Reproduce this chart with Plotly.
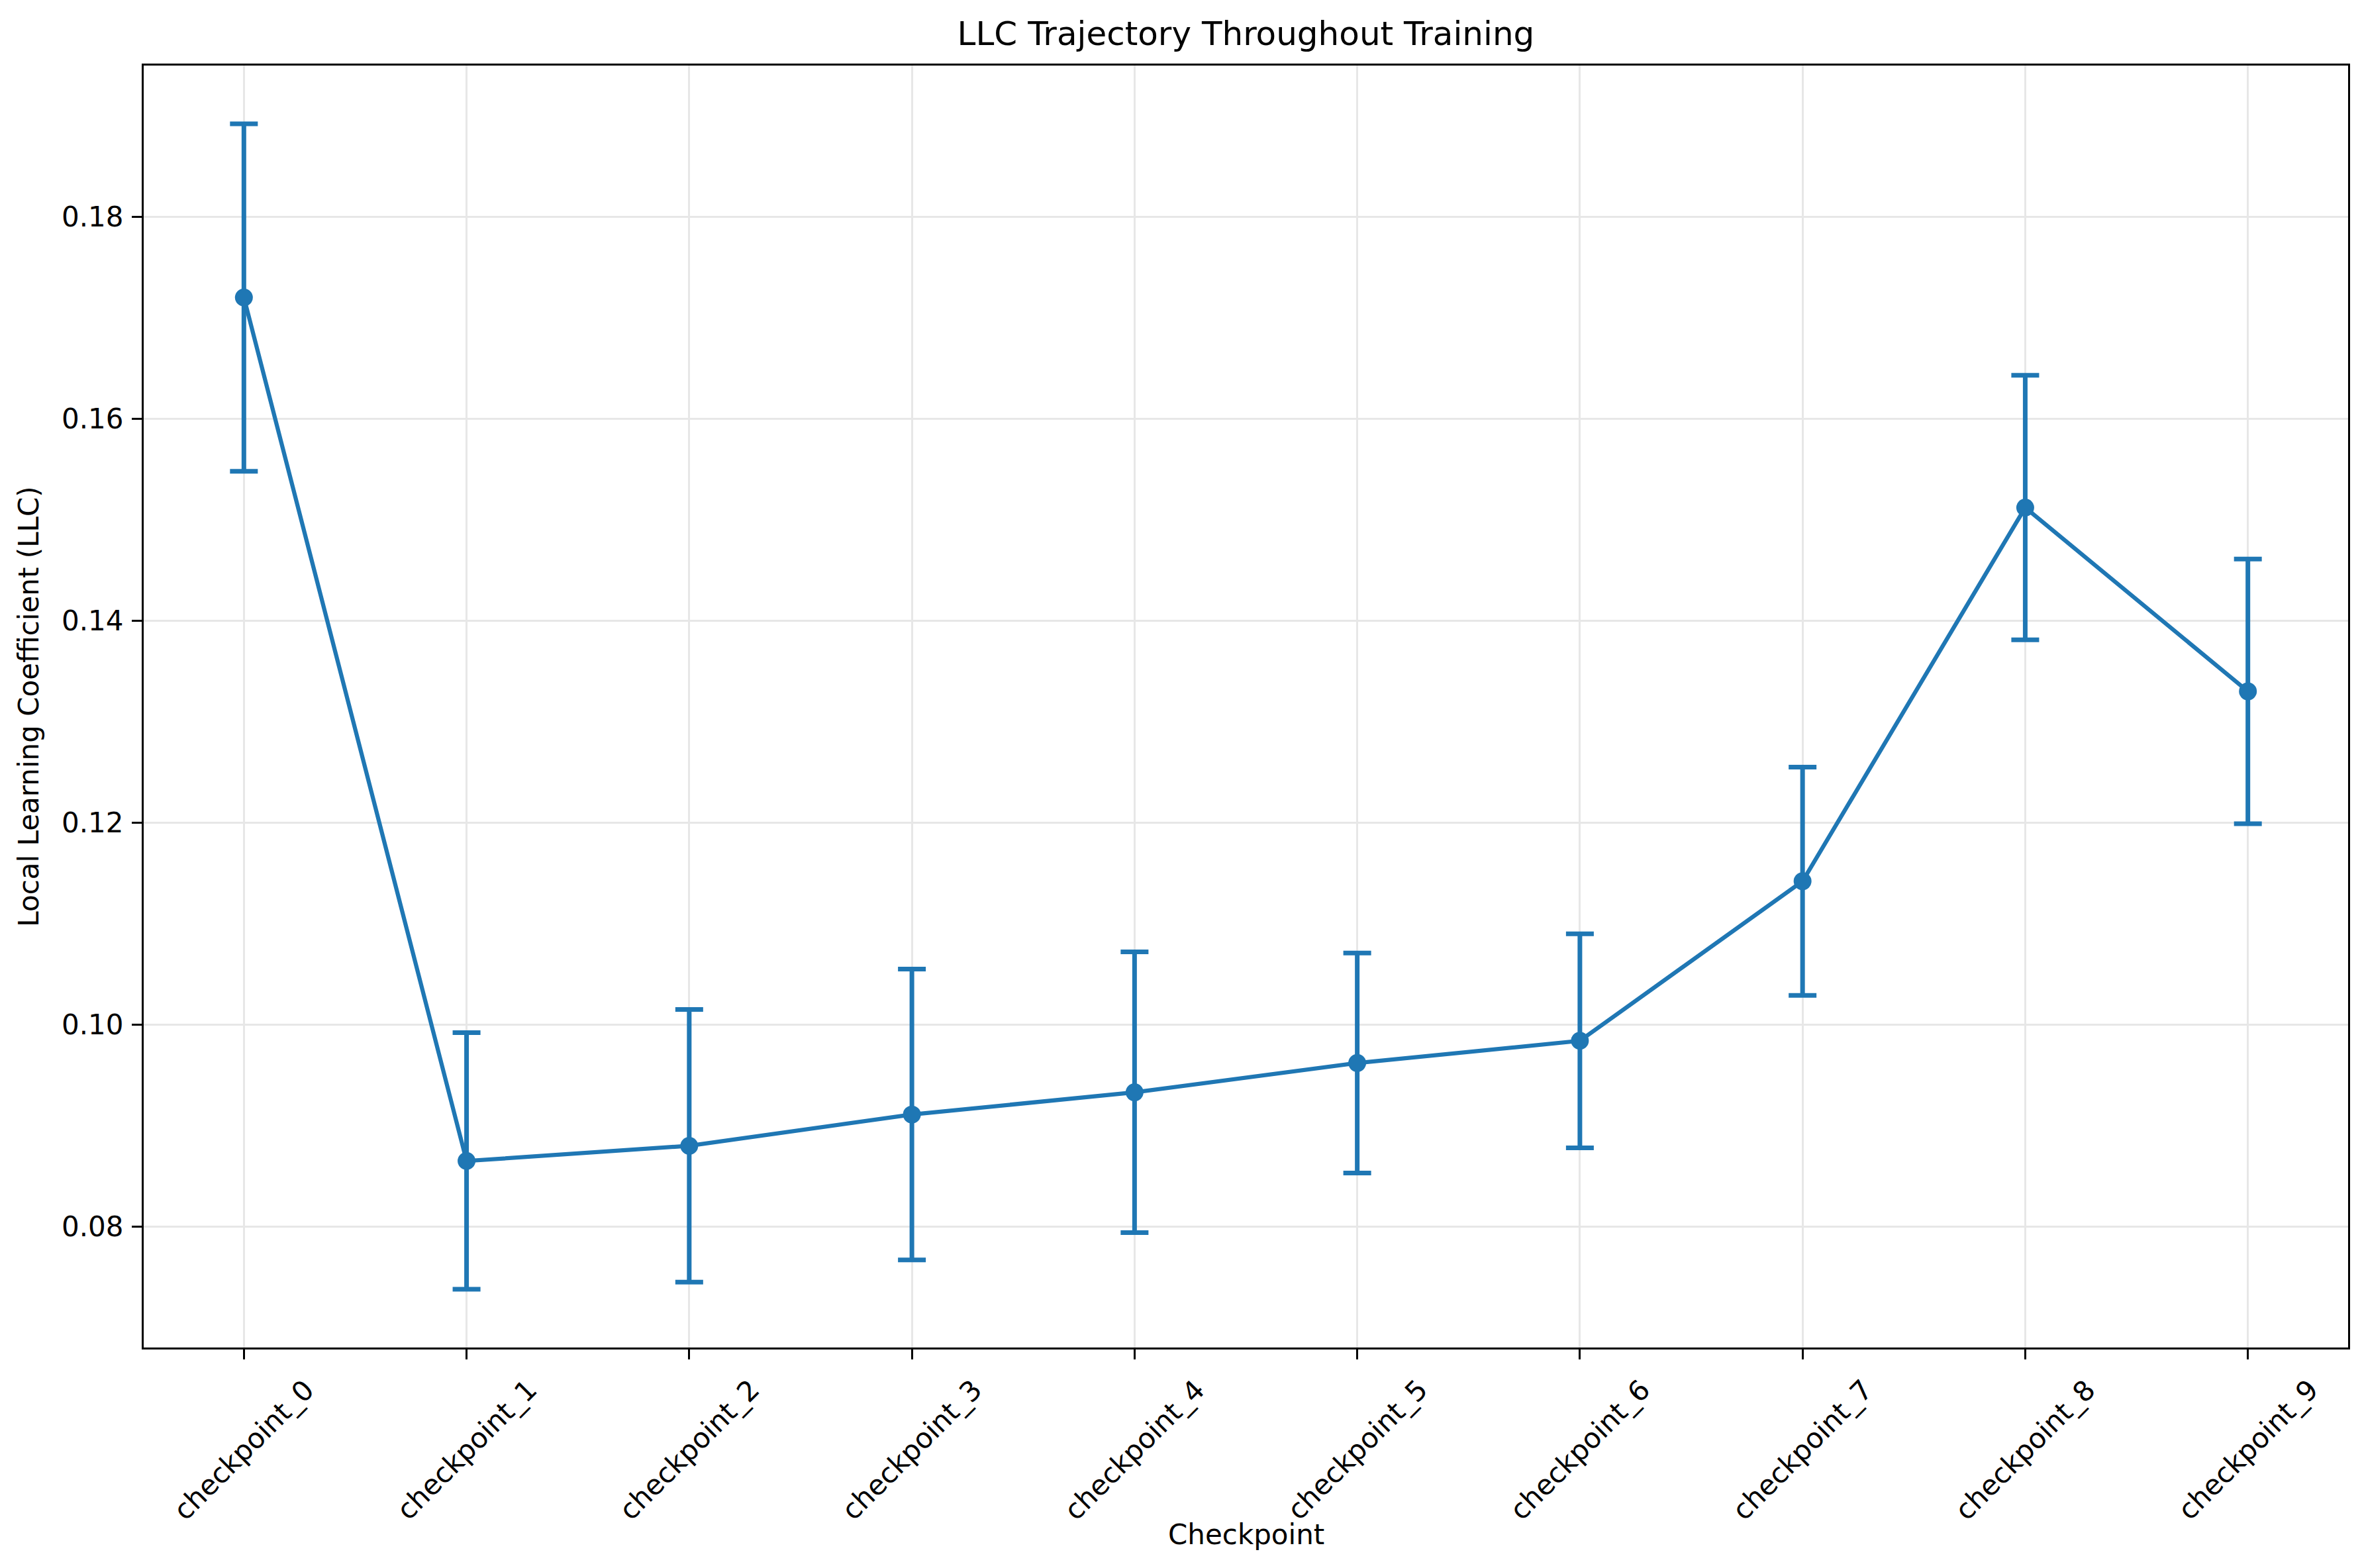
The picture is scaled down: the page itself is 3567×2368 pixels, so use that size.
import plotly.graph_objects as go

# checkpoint labels and LLC estimates (mean +/- std)
checkpoints = ["checkpoint_0", "checkpoint_1", "checkpoint_2", "checkpoint_3", "checkpoint_4",
               "checkpoint_5", "checkpoint_6", "checkpoint_7", "checkpoint_8", "checkpoint_9"]
llc_mean = [0.1720, 0.0865, 0.0880, 0.0911, 0.0933, 0.0962, 0.0984, 0.1142, 0.1512, 0.1330]
llc_std = [0.0172, 0.0127, 0.0135, 0.0144, 0.0139, 0.0109, 0.0106, 0.0113, 0.0131, 0.0131]

W, H = 3567, 2368
FONT = "DejaVu Sans"
BLUE = "#1f77b4"

# matplotlib-style autoscale: 5% margin around data incl. error bars
lo = min(m - s for m, s in zip(llc_mean, llc_std))
hi = max(m + s for m, s in zip(llc_mean, llc_std))
pad = 0.05 * (hi - lo)
n = len(checkpoints)

fig = go.Figure()
fig.add_trace(go.Scatter(
    x=checkpoints, y=llc_mean,
    mode="lines+markers",
    line=dict(color=BLUE, width=6.25),
    marker=dict(color=BLUE, size=27),
    error_y=dict(type="data", array=llc_std, visible=True,
                 color=BLUE, thickness=7, width=21),
    showlegend=False,
))

# rotated tick labels, centred under each tick like matplotlib does
for c in checkpoints:
    fig.add_annotation(x=c, xref="x", y=0, yref="paper",
                       text=c, textangle=-45, showarrow=False,
                       xanchor="center", yanchor="top", yshift=-36,
                       font=dict(family=FONT, size=42, color="black"))

fig.add_annotation(x=0.5, xref="paper", y=0, yref="paper",
                   text="Checkpoint", showarrow=False,
                   xanchor="center", yanchor="top", yshift=-256,
                   font=dict(family=FONT, size=42, color="black"))

axis_common = dict(showline=True, linecolor="black", linewidth=3.3, mirror=True,
                   ticks="outside", ticklen=15, tickwidth=3.3, tickcolor="black",
                   showgrid=True, gridcolor="#e7e7e7", gridwidth=3.3,
                   zeroline=False,
                   tickfont=dict(family=FONT, size=42, color="black"))

fig.update_layout(
    width=W, height=H,
    margin=dict(l=209, r=29, t=91, b=341),
    paper_bgcolor="white", plot_bgcolor="white",
    font=dict(family=FONT, size=42, color="black"),
    title=dict(text="LLC Trajectory Throughout Training",
               x=0.5, xref="paper", xanchor="center",
               y=1 - 60 / H, yref="container", yanchor="bottom",
               font=dict(family=FONT, size=50, color="black")),
    xaxis=dict(axis_common, type="category", range=[-0.45, n - 1 + 0.45],
               showticklabels=False),
    yaxis=dict(axis_common, range=[lo - pad, hi + pad], dtick=0.02,
               tickformat=".2f", ticklabelstandoff=4,
               title=dict(text="Local Learning Coefficient (LLC)", standoff=22,
                          font=dict(family=FONT, size=42, color="black"))),
)

fig.write_html("out.html")
